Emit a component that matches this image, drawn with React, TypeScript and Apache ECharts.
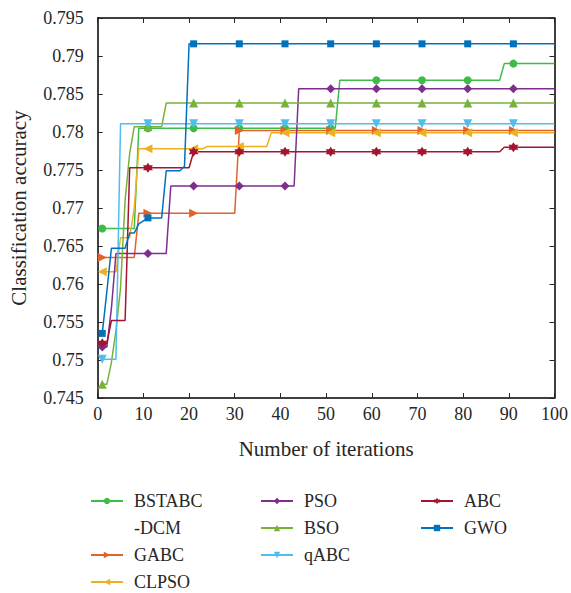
import React, { useEffect, useRef } from 'react';
import * as echarts from 'echarts';

// Iteration index (x values)
const iterations: number[] = Array.from({ length: 100 }, (_, i) => i + 1);

// Series values as runs: [value, number of consecutive iterations]
const bstabcRuns: [number, number][] = [[0.7673, 8], [0.7805, 44], [0.7868, 36], [0.7890, 12]];
const gabcRuns: [number, number][] = [[0.7635, 8], [0.7693, 22], [0.7802, 70]];
const clpsoRuns: [number, number][] = [[0.7616, 4], [0.7661, 3], [0.7700, 1], [0.7778, 15], [0.7781, 14], [0.7799, 63]];
const psoRuns: [number, number][] = [[0.7517, 2], [0.7568, 1], [0.7640, 12], [0.7729, 28], [0.7857, 57]];
const bsoRuns: [number, number][] = [[0.7468, 2], [0.7497, 1], [0.7539, 1], [0.7595, 1], [0.7710, 1], [0.7772, 1], [0.7807, 7], [0.7838, 86]];
const qabcRuns: [number, number][] = [[0.7501, 4], [0.7811, 96]];
const abcRuns: [number, number][] = [[0.7522, 2], [0.7552, 4], [0.7753, 14], [0.7774, 68], [0.7780, 12]];
const gwoRuns: [number, number][] = [[0.7535, 1], [0.7590, 1], [0.7647, 4], [0.7667, 2], [0.7679, 1], [0.7683, 1], [0.7687, 4], [0.7749, 4], [0.7755, 1], [0.7916, 81]];

const seriesNames = ['BSTABC-DCM', 'GABC', 'CLPSO', 'PSO', 'BSO', 'qABC', 'ABC', 'GWO'];
const seriesRuns = [bstabcRuns, gabcRuns, clpsoRuns, psoRuns, bsoRuns, qabcRuns, abcRuns, gwoRuns];

const yTicks = { min: 0.745, max: 0.795, interval: 0.005 };
const xTicks = { min: 0, max: 100, interval: 10 };

const STAR = 'path://M10 0L12.89 5L18.66 5L15.77 10L18.66 15L12.89 15L10 20L7.11 15L1.34 15L4.23 10L1.34 5L7.11 5Z';

const styles: Record<string, { color: string; symbol: string; rotate: number; size: number }> = {
  'BSTABC-DCM': { color: '#3fbb47', symbol: 'circle', rotate: 0, size: 8 },
  GABC: { color: '#e2622a', symbol: 'triangle', rotate: -90, size: 9 },
  CLPSO: { color: '#edb120', symbol: 'triangle', rotate: 90, size: 9 },
  PSO: { color: '#7e2f8e', symbol: 'diamond', rotate: 0, size: 9 },
  BSO: { color: '#77b23a', symbol: 'triangle', rotate: 0, size: 9 },
  qABC: { color: '#4dbeee', symbol: 'triangle', rotate: 180, size: 9 },
  ABC: { color: '#a2142f', symbol: STAR, rotate: 0, size: 10 },
  GWO: { color: '#0072bd', symbol: 'rect', rotate: 0, size: 7 },
};

const FONT = 'Liberation Serif';
const TEXT = '#262626';

const expand = (runs: [number, number][]) => runs.flatMap(([v, n]) => Array(n).fill(v) as number[]);

export default function App() {
  const ref = useRef<HTMLDivElement>(null);
  useEffect(() => {
    if (!ref.current) return;
    const chart = echarts.init(ref.current, null, { renderer: 'svg' });

    const series = seriesNames.map((name, si) => {
      const vals = expand(seriesRuns[si]);
      const st = styles[name];
      return {
        name,
        type: 'line',
        xAxisIndex: 0,
        yAxisIndex: 0,
        symbol: st.symbol,
        symbolRotate: st.rotate,
        symbolSize: st.size,
        showSymbol: true,
        color: st.color,
        lineStyle: { color: st.color, width: 1.5 },
        itemStyle: { color: st.color },
        data: iterations.map((it, i) =>
          i % 10 === 0 ? { value: [it, vals[i]] } : { value: [it, vals[i]], symbol: 'none' }
        ),
      };
    });

    const axisLine = { show: true, onZero: false, lineStyle: { color: '#000', width: 1.5 } };
    const axisTick = { show: true, inside: true, length: 5, lineStyle: { color: TEXT, width: 1 } };
    const legendCommon = {
      orient: 'vertical',
      itemGap: 0,
      itemWidth: 32,
      itemHeight: 8,
      padding: 0,
      icon: undefined,
      textStyle: { fontFamily: FONT, fontSize: 18, color: TEXT, lineHeight: 27, padding: [0, 0, 0, 6] },
      selectedMode: false,
    };

    chart.setOption({
      animation: false,
      backgroundColor: '#fff',
      grid: { left: 97.7, right: 15.5, top: 18, bottom: 195 },
      xAxis: [
        {
          type: 'value', ...xTicks, position: 'bottom',
          axisLine, axisTick,
          axisLabel: { fontFamily: FONT, fontSize: 18, color: TEXT, margin: 7 },
          splitLine: { show: false },
          name: 'Number of iterations', nameLocation: 'middle', nameGap: 40,
          nameTextStyle: { fontFamily: FONT, fontSize: 21, color: TEXT },
        },
        {
          type: 'value', ...xTicks, position: 'top',
          axisLine, axisTick, axisLabel: { show: false }, splitLine: { show: false },
        },
      ],
      yAxis: [
        {
          type: 'value', ...yTicks, position: 'left',
          axisLine, axisTick,
          axisLabel: {
            fontFamily: FONT, fontSize: 18, color: TEXT, margin: 14,
            formatter: (v: number) => String(parseFloat(v.toFixed(3))),
          },
          splitLine: { show: false },
          name: 'Classification accuracy', nameLocation: 'middle', nameGap: 68, nameRotate: 90,
          nameTextStyle: { fontFamily: FONT, fontSize: 21, color: TEXT },
        },
        {
          type: 'value', ...yTicks, position: 'right',
          axisLine, axisTick, axisLabel: { show: false }, splitLine: { show: false },
        },
      ],
      legend: [
        {
          ...legendCommon, left: 90, top: 460.5,
          data: ['BSTABC-DCM', 'GABC', 'CLPSO'],
          formatter: (n: string) => (n === 'BSTABC-DCM' ? ' \nBSTABC\n-DCM' : n),
        },
        { ...legendCommon, left: 260, top: 487.5, data: ['PSO', 'BSO', 'qABC'] },
        { ...legendCommon, left: 420, top: 487.5, data: ['ABC', 'GWO'] },
      ],
      series,
    });
    return () => chart.dispose();
  }, []);
  return (
    <div
      ref={ref}
      style={{ position: 'fixed', left: 0, top: 0, width: 571, height: 593, background: '#fff' }}
    />
  );
}
